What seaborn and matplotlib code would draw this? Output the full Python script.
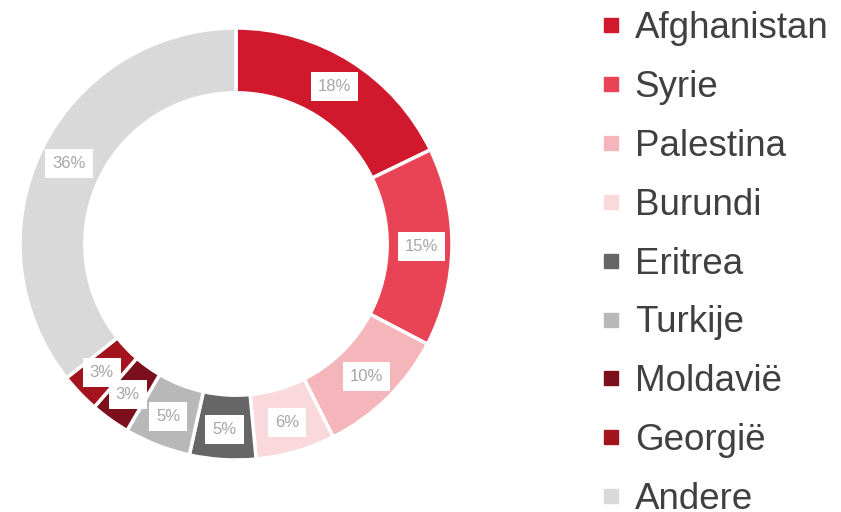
import matplotlib
matplotlib.use("Agg")
import matplotlib.pyplot as plt
from matplotlib.lines import Line2D
import seaborn as sns

# landen en aandeel (%)
countries = ["Afghanistan", "Syrie", "Palestina", "Burundi", "Eritrea",
             "Turkije", "Moldavië", "Georgië", "Andere"]
shares = [18, 15, 10, 6, 5, 5, 3, 3, 36]
hex_colors = ["#D0192D", "#E84455", "#F4B5BB", "#F9D9DC", "#666666",
              "#B8B8B8", "#7B0F1C", "#A3141F", "#D9D9D9"]

sns.set_style("white")
plt.rcParams['font.family'] = ['Liberation Sans', 'DejaVu Sans']
palette = sns.color_palette(hex_colors)

fig = plt.figure(figsize=(8.41, 5.12), dpi=100)
ax = fig.add_axes([20 / 841, 52 / 512, 432 / 841, 432 / 512])

wedges, texts, autotexts = ax.pie(
    shares, colors=palette, startangle=90, counterclock=False,
    wedgeprops=dict(width=0.30, edgecolor="white", linewidth=2.5),
    autopct=lambda p: "%.0f%%" % p, pctdistance=0.86,
    textprops=dict(color="#A6A6A6", fontsize=12))
for t in autotexts:
    t.set_bbox(dict(boxstyle="square,pad=0.42", facecolor="white", edgecolor="none"))
ax.set_xlim(-1, 1)
ax.set_ylim(-1, 1)
ax.set_aspect("equal")
ax.axis("off")

handles = [Line2D([0], [0], marker="s", linestyle="none", markersize=10.5,
                  markerfacecolor=c, markeredgecolor=c) for c in palette]
leg = fig.legend(handles, countries, loc="upper left", bbox_to_anchor=(598 / 841, 1 - 9 / 512),
                 frameon=False, fontsize=26.5, labelspacing=0.65, handlelength=0.6,
                 handletextpad=0.35, borderaxespad=0, borderpad=0.05)
for t in leg.get_texts():
    t.set_color("#404040")

fig.savefig("out.png", dpi=100)
